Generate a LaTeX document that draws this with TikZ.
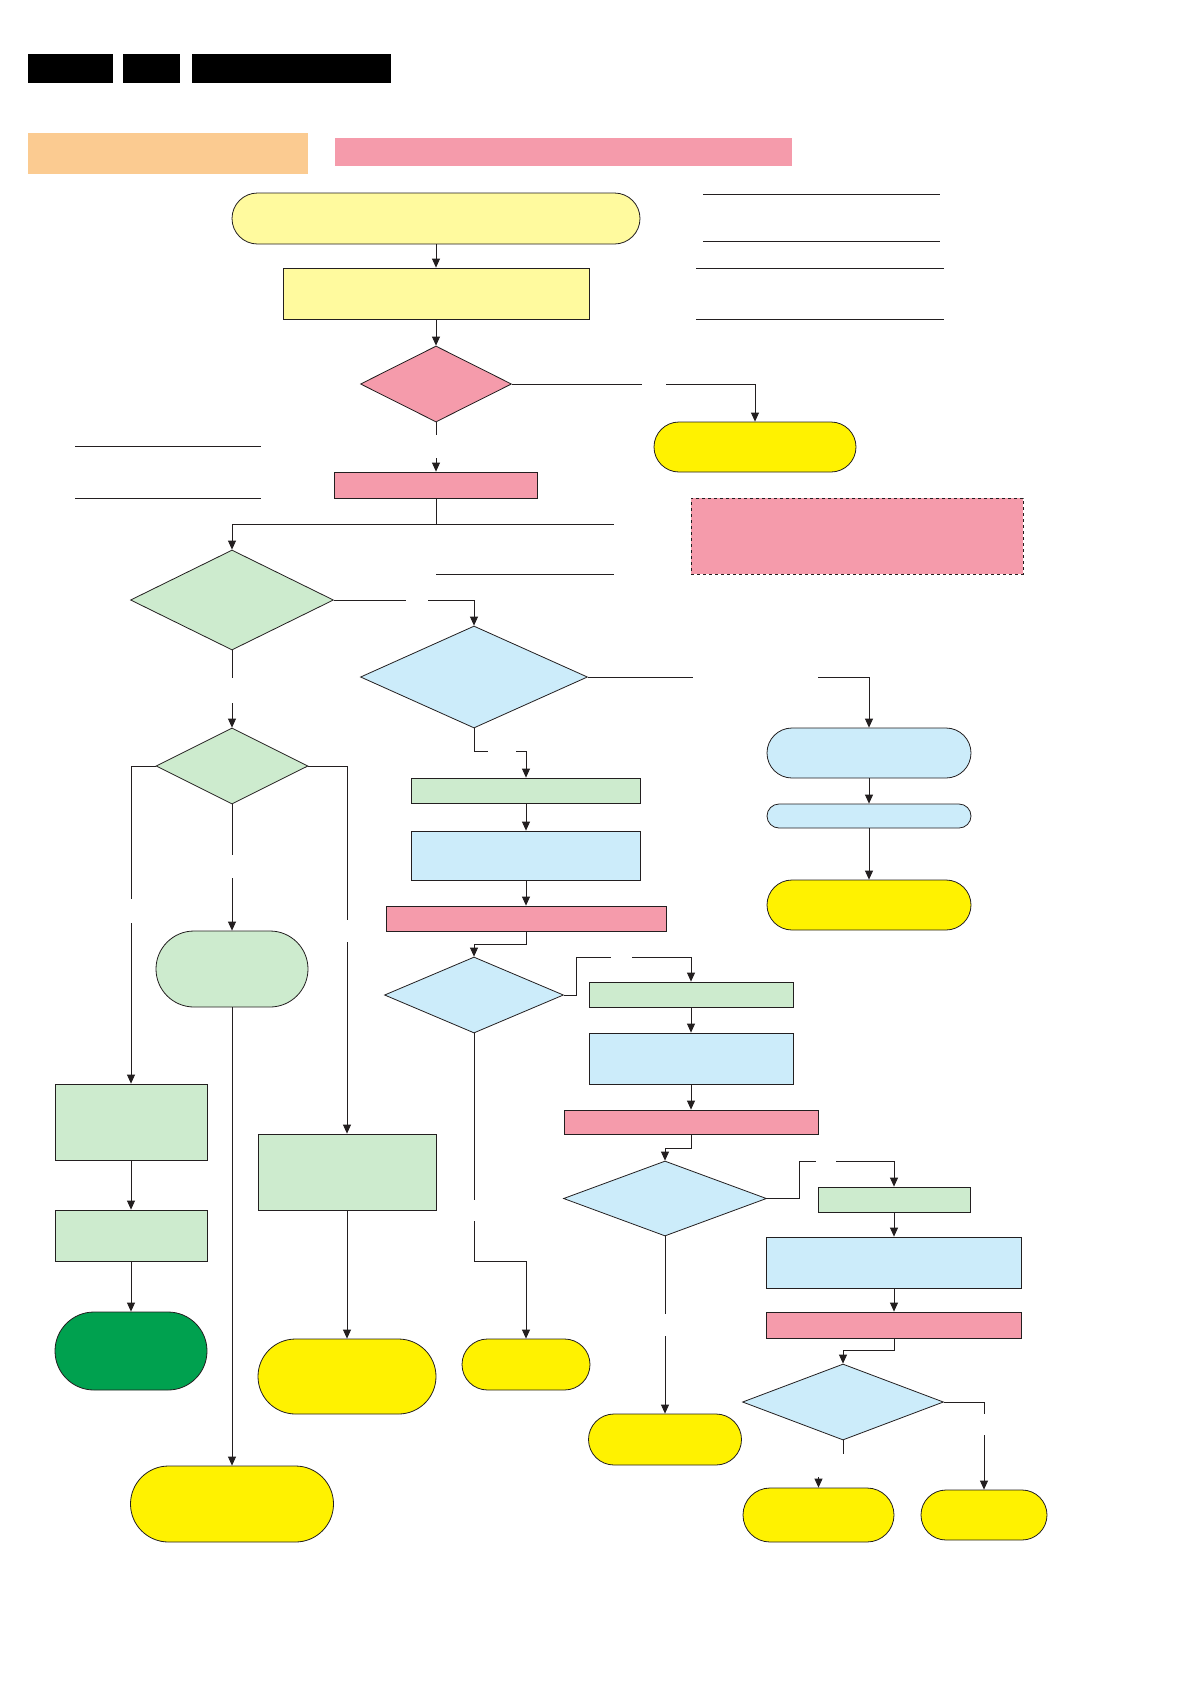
\documentclass[tikz,border=0pt]{standalone}
\usepackage{tikz}
\usetikzlibrary{arrows.meta,shapes.geometric,shapes.misc}
\definecolor{paleyellow}{HTML}{FFFA9E}
\definecolor{signyellow}{HTML}{FFF200}
\definecolor{rose}{HTML}{F59BAB}
\definecolor{mint}{HTML}{CDEBCE}
\definecolor{sky}{HTML}{CCECFA}
\definecolor{forest}{HTML}{00A14F}
\definecolor{peach}{HTML}{FBCB91}
\definecolor{ink}{HTML}{231F20}

\begin{document}
\begin{tikzpicture}[x=1pt, y=-1pt,
    every node/.style={inner sep=0pt, line width=0.8pt, draw=ink},
    box/.style={rectangle},
    term/.style={rounded rectangle},
    choice/.style={diamond},
    wire/.style={line width=0.8pt, draw=ink},
    arr/.style={wire, -{Triangle[length=9pt, width=8pt]}}]
  \useasboundingbox (0,0) rectangle (1190,1682);

  % Header bars
  \node[box, draw=none, fill=black, minimum width=85, minimum height=29] (blk1) at (70.5, 68.5) {};
  \node[box, draw=none, fill=black, minimum width=57, minimum height=29] (blk2) at (151.5, 68.5) {};
  \node[box, draw=none, fill=black, minimum width=199, minimum height=29] (blk3) at (291.5, 68.5) {};
  \node[box, draw=none, fill=peach, minimum width=280, minimum height=41] (hdrA) at (168, 153.5) {};
  \node[box, draw=none, fill=rose, minimum width=457, minimum height=28] (hdrB) at (563.5, 152) {};

  % Top of the chart
  \node[term, fill=paleyellow, minimum width=408, minimum height=51] (start) at (436, 218.5) {};
  \node[box, fill=paleyellow, minimum width=306, minimum height=51] (init) at (436, 293.5) {};
  \node[choice, fill=rose, minimum width=151, minimum height=76] (dA) at (436, 384) {};
  \node[term, fill=signyellow, minimum width=202, minimum height=50] (endA) at (755, 447) {};
  \node[box, fill=rose, minimum width=203, minimum height=26] (pA) at (436, 485) {};
  \node[box, fill=rose, dashed, line width=0.5pt, minimum width=332, minimum height=76] (note) at (857, 536) {};

  % Side rules
  \draw[wire] (703, 194) -- (940, 194);
  \draw[wire] (703, 241) -- (940, 241);
  \draw[wire] (696, 268) -- (944, 268);
  \draw[wire] (696, 319) -- (944, 319);
  \draw[wire] (75, 446) -- (261, 446);
  \draw[wire] (75, 498) -- (261, 498);
  \draw[wire] (436, 574) -- (614, 574);

  % Left branch
  \node[choice, fill=mint, minimum width=203, minimum height=100] (dG1) at (232, 600) {};
  \node[choice, fill=mint, minimum width=152, minimum height=76] (dG2) at (232, 766) {};
  \node[term, fill=mint, minimum width=152, minimum height=76] (tG) at (232, 969) {};
  \node[term, fill=signyellow, minimum width=203, minimum height=76] (endC) at (232, 1504) {};
  \node[box, fill=mint, minimum width=152, minimum height=76] (gL1) at (131, 1122) {};
  \node[box, fill=mint, minimum width=152, minimum height=51] (gL2) at (131, 1235.5) {};
  \node[term, fill=forest, minimum width=152, minimum height=78] (endD) at (131, 1351) {};
  \node[box, fill=mint, minimum width=178, minimum height=76] (gM) at (347, 1172) {};
  \node[term, fill=signyellow, minimum width=178, minimum height=75] (endE) at (347, 1376.5) {};

  % Middle branch
  \node[choice, fill=sky, minimum width=227, minimum height=102] (dB1) at (474, 677) {};
  \node[term, fill=sky, minimum width=204, minimum height=50] (tB1) at (869, 753) {};
  \node[term, fill=sky, minimum width=204, minimum height=24] (tB2) at (869, 816) {};
  \node[term, fill=signyellow, minimum width=204, minimum height=50] (endB) at (869, 905) {};
  \node[box, fill=mint, minimum width=229, minimum height=25] (gB1) at (526, 790.5) {};
  \node[box, fill=sky, minimum width=229, minimum height=49] (bB1) at (526, 855.5) {};
  \node[box, fill=rose, minimum width=280, minimum height=25] (pB1) at (526, 918.5) {};
  \node[choice, fill=sky, minimum width=179, minimum height=76] (dB2) at (474, 995) {};
  \node[term, fill=signyellow, minimum width=128, minimum height=51] (endH) at (526, 1364.5) {};

  % Right branch
  \node[box, fill=mint, minimum width=204, minimum height=25] (gB2) at (691, 994.5) {};
  \node[box, fill=sky, minimum width=204, minimum height=51] (bB2) at (691, 1058.5) {};
  \node[box, fill=rose, minimum width=254, minimum height=24] (pB2) at (691, 1122) {};
  \node[choice, fill=sky, minimum width=203, minimum height=75] (dB3) at (665, 1198.5) {};
  \node[term, fill=signyellow, minimum width=153, minimum height=51] (endI) at (665, 1439.5) {};
  \node[box, fill=mint, minimum width=152, minimum height=25] (gB3) at (894, 1199.5) {};
  \node[box, fill=sky, minimum width=255, minimum height=51] (bB3) at (894, 1262.5) {};
  \node[box, fill=rose, minimum width=255, minimum height=26] (pB3) at (894, 1325) {};
  \node[choice, fill=sky, minimum width=201, minimum height=76] (dB4) at (843, 1402) {};
  \node[term, fill=signyellow, minimum width=126, minimum height=50] (endF) at (984, 1515) {};
  \node[term, fill=signyellow, minimum width=151, minimum height=54] (endG) at (818.5, 1515) {};

  % Gap ends of the connectors
  \coordinate (a1) at (642, 384);   \coordinate (a2) at (666, 384);
  \coordinate (a3) at (436, 435);   \coordinate (a4) at (436, 458);
  \coordinate (jA) at (436, 524);   \coordinate (jAe) at (614, 524);
  \coordinate (g1) at (406, 600);   \coordinate (g2) at (428, 600);
  \coordinate (g3) at (232, 678);   \coordinate (g4) at (232, 703);
  \coordinate (b1) at (693, 677);   \coordinate (b2) at (818, 677);
  \coordinate (l1) at (131, 899);   \coordinate (l2) at (131, 923);
  \coordinate (r1) at (347, 920);   \coordinate (r2) at (347, 942);
  \coordinate (m1) at (232, 855);   \coordinate (m2) at (232, 878);
  \coordinate (c1) at (488, 751);   \coordinate (c2) at (516, 751);
  \coordinate (e1) at (611, 957);   \coordinate (e2) at (632, 957);
  \coordinate (h1) at (474, 1200);  \coordinate (h2) at (474, 1221);
  \coordinate (f1) at (816, 1161);  \coordinate (f2) at (836, 1161);
  \coordinate (i1) at (665, 1314);  \coordinate (i2) at (665, 1336);
  \coordinate (k1) at (984, 1414);  \coordinate (k2) at (984, 1435);
  \coordinate (n1) at (843, 1454);  \coordinate (n2) at (818.5, 1477);

  % Connectors
  \draw[arr] (start) -- (init);
  \draw[arr] (init) -- (dA);
  \draw[wire] (dA.east) -- (a1);
  \draw[arr] (a2) -| (endA.north);
  \draw[wire] (dA.south) -- (a3);
  \draw[arr] (a4) -- (pA.north);
  \draw[wire] (pA.south) -- (jA) -- (jAe);
  \draw[arr] (jA) -| (dG1.north);

  \draw[wire] (dG1.east) -- (g1);
  \draw[arr] (g2) -| (dB1.north);
  \draw[wire] (dG1.south) -- (g3);
  \draw[arr] (g4) -- (dG2.north);
  \draw[wire] (dB1.east) -- (b1);
  \draw[arr] (b2) -| (tB1.north);
  \draw[arr] (tB1) -- (tB2);
  \draw[arr] (tB2) -- (endB);

  \draw[wire] (dG2.west) -| (l1);
  \draw[arr] (l2) -- (gL1.north);
  \draw[wire] (dG2.east) -| (r1);
  \draw[arr] (r2) -- (gM.north);
  \draw[wire] (dG2.south) -- (m1);
  \draw[arr] (m2) -- (tG.north);
  \draw[arr] (tG) -- (endC);
  \draw[arr] (gL1) -- (gL2);
  \draw[arr] (gL2) -- (endD);
  \draw[arr] (gM) -- (endE);

  \draw[wire] (dB1.south) |- (c1);
  \draw[arr] (c2) -| (gB1.north);
  \draw[arr] (gB1) -- (bB1);
  \draw[arr] (bB1) -- (pB1);
  \draw[arr] (pB1.south) -- ++(0, 13) -| (dB2.north);
  \draw[wire] (dB2.east) -- ++(12, 0) |- (e1);
  \draw[arr] (e2) -| (gB2.north);
  \draw[wire] (dB2.south) -- (h1);
  \draw[arr] (h2) -- ++(0, 40) -| (endH.north);

  \draw[arr] (gB2) -- (bB2);
  \draw[arr] (bB2) -- (pB2);
  \draw[arr] (pB2.south) -- ++(0, 14) -| (dB3.north);
  \draw[wire] (dB3.east) -- ++(32, 0) |- (f1);
  \draw[arr] (f2) -| (gB3.north);
  \draw[wire] (dB3.south) -- (i1);
  \draw[arr] (i2) -- (endI.north);
  \draw[arr] (gB3) -- (bB3);
  \draw[arr] (bB3) -- (pB3);
  \draw[arr] (pB3.south) -- ++(0, 12) -| (dB4.north);
  \draw[wire] (dB4.east) -| (k1);
  \draw[arr] (k2) -- (endF.north);
  \draw[wire] (dB4.south) -- (n1);
  \draw[arr] (n2) -- (endG.north);
\end{tikzpicture}
\end{document}
